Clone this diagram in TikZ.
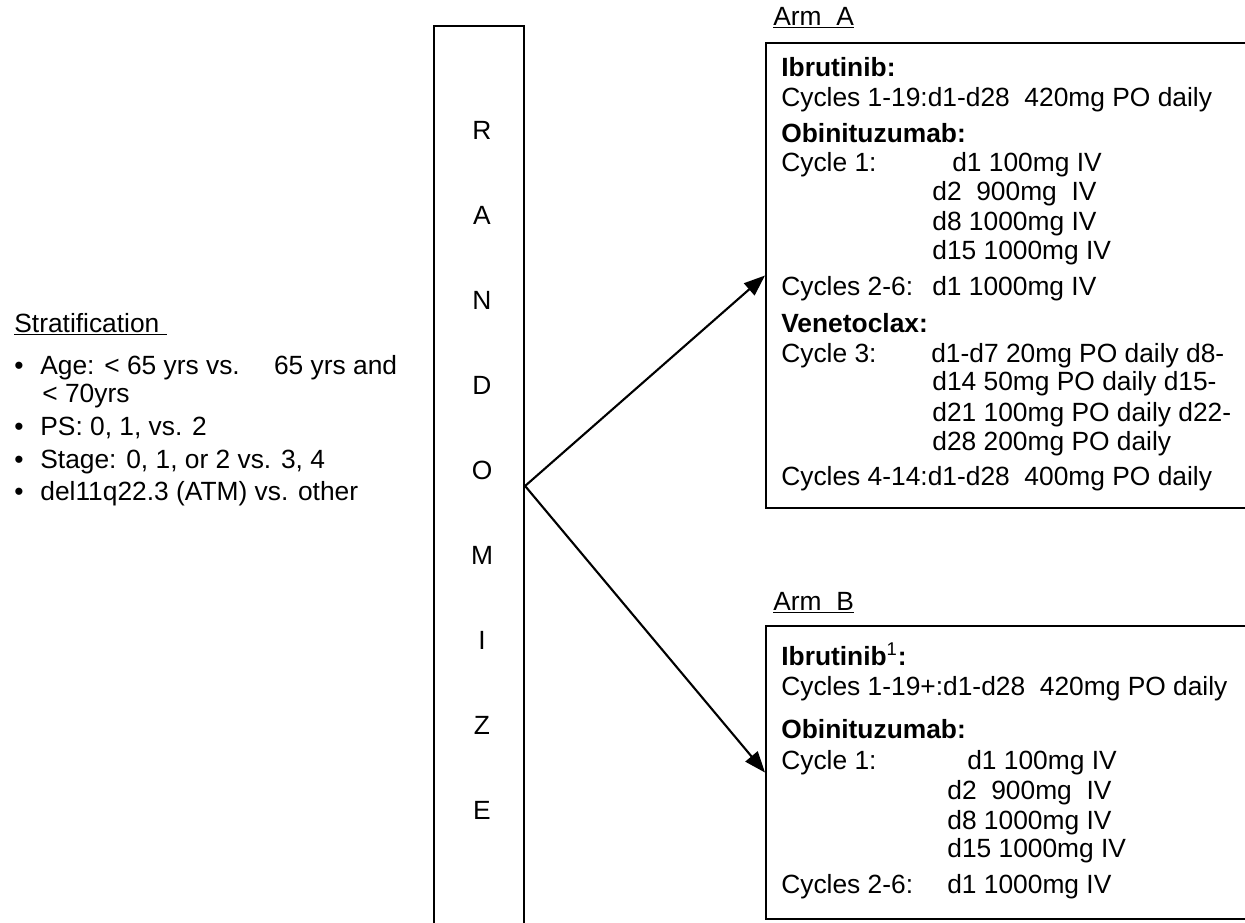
\documentclass[tikz,border=0pt]{standalone}
\usepackage{fontspec}
\setmainfont{Liberation Sans}
\usetikzlibrary{arrows.meta, positioning}

\begin{document}
\begin{tikzpicture}[
    x=0.02cm, y=-0.02cm,
    frame/.style={draw, line width=1.2pt, inner sep=0pt, anchor=north west},
    txt/.style={anchor=base west, inner sep=0pt, font=\fontsize{15pt}{17pt}\selectfont},
    head/.style={txt, font=\fontsize{15pt}{17pt}\selectfont\bfseries},
    arrow/.style={-{Triangle[length=12pt, width=9pt]}, line width=1.2pt}
]
\path[use as bounding box, clip] (0,0) rectangle (1245,923);

% --- Stratification ---
\node[txt] (strat) at (14,332) {\underline{Stratification\ }};
\foreach \y/\t [count=\i] in {374/{Age: < 65 yrs vs.\hspace{1.3em}65 yrs and},
    435/{PS: 0, 1, vs. 2}, 468/{Stage: 0, 1, or 2 vs. 3, 4},
    500/{del11q22.3 (ATM) vs. other}}
{
  \node[txt] (dot\i) at (14,\y) {\textbullet};
  \node[txt] (fac\i) at (40,\y) {\t};
}
\node[txt] (age2) at (42,402) {< 70yrs};

% --- Randomize column ---
\node[frame, minimum width=1.8cm, minimum height=18.4cm] (rand) at (433,25) {};
\foreach \ch [count=\i] in {R,A,N,D,O,M,I,Z,E}
  \node[font=\fontsize{15pt}{17pt}\selectfont] (let\i) at (482,45+85*\i) {\ch};

% --- Arm A ---
\node[txt] (armAlbl) at (773,25) {\underline{Arm~~A}};
\node[frame, minimum width=10cm, minimum height=9.3cm] (armA) at (765,42) {};
\node[head] (aIbr) at (781,76) {Ibrutinib:};
\node[txt] (aIbr1) at (781,106) {Cycles 1-19:d1-d28~~420mg PO daily};
\node[head] (aObi) at (781,142) {Obinituzumab:};
\node[txt] (aObi1) at (781,171) {\makebox[3.42cm][l]{Cycle 1:}d1 100mg IV};
\foreach \y/\t [count=\i] in {200/{d2~~900mg~~IV}, 230/{d8 1000mg IV}, 259/{d15 1000mg IV}}
  \node[txt] (aObd\i) at (932,\y) {\t};
\node[txt] (aObi2) at (781,295) {\makebox[3.02cm][l]{Cycles 2-6:}d1 1000mg IV};
\node[head] (aVen) at (781,332) {Venetoclax:};
\node[txt] (aVen1) at (781,362) {\makebox[3.0cm][l]{Cycle 3:}d1-d7 20mg PO daily d8-};
\foreach \y/\t [count=\i] in {390/{d14 50mg PO daily d15-}, 421/{d21 100mg PO daily d22-},
    450/{d28 200mg PO daily}}
  \node[txt] (aVend\i) at (932,\y) {\t};
\node[txt] (aVen2) at (781,485) {Cycles 4-14:d1-d28~~400mg PO daily};

% --- Arm B ---
\node[txt] (armBlbl) at (773,610) {\underline{Arm~~B}};
\node[frame, minimum width=10cm, minimum height=5.86cm] (armB) at (765,625) {};
\node[head] (bIbr) at (781,665) {Ibrutinib\textsuperscript{\mdseries 1}:};
\node[txt] (bIbr1) at (781,695) {Cycles 1-19+:d1-d28~~420mg PO daily};
\node[head] (bObi) at (781,738) {Obinituzumab:};
\node[txt] (bObi1) at (781,769) {\makebox[3.72cm][l]{Cycle 1:}d1 100mg IV};
\foreach \y/\t [count=\i] in {799/{d2~~900mg~~IV}, 829/{d8 1000mg IV}, 857/{d15 1000mg IV}}
  \node[txt] (bObd\i) at (947,\y) {\t};
\node[txt] (bObi2) at (781,893) {\makebox[3.32cm][l]{Cycles 2-6:}d1 1000mg IV};

% Arrows
\draw[arrow] (rand.east) -- (armA.west);
\draw[arrow] (rand.east) -- (armB.west);

\end{tikzpicture}
\end{document}
